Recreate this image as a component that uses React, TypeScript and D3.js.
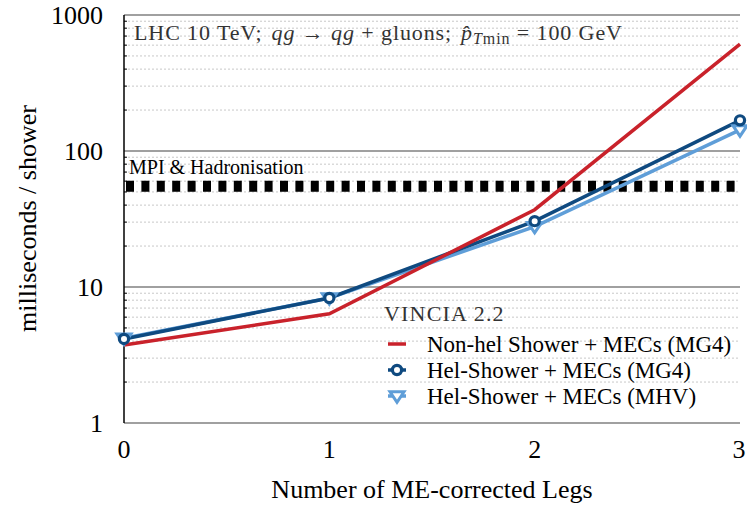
import { scaleLinear, scaleLog, line } from "d3";

const W = 747;
const H = 508;
const MARGIN = { top: 15, left: 124, right: 7, bottom: 86 };

const legs = [0, 1, 2, 3];
const nonHelMG4 = [3.75, 6.35, 37, 610];
const helMG4 = [4.15, 8.3, 30.5, 168];
const helMHV = [4.2, 8.3, 27.8, 143];
const mpiHadronisation = 55;
const yMajorTicks = [1, 10, 100, 1000];
const xTicks = [0, 1, 2, 3];

const RED = "#c9222b";
const DARK = "#0f4a80";
const LIGHT = "#5f9ed8";
const TXT = { fontFamily: "Liberation Serif" };

function App() {
  const x0 = MARGIN.left;
  const x1 = W - MARGIN.right;
  const y0 = H - MARGIN.bottom;
  const xScale = scaleLinear().domain([0, 3]).range([x0, x1]);
  const yScale = scaleLog().domain([1, 1000]).range([y0 + 1, MARGIN.top]);

  const minor: number[] = [];
  [1, 10, 100].forEach((d) => {
    for (let k = 2; k <= 9; k++) minor.push(d * k);
  });

  const path = line<number>()
    .x((_, i) => xScale(legs[i]))
    .y((d) => yScale(d));

  const tri = (cx: number, cy: number, s: number) =>
    `M${cx - s},${cy - s * 0.6} L${cx + s},${cy - s * 0.6} L${cx},${cy + s * 0.9} Z`;

  const legY = [344, 370, 396];

  return (
    <svg width={W} height={H} style={{ display: "block", position: "fixed", left: 0, top: 0 }}>
      <rect width={W} height={H} fill="#fff" />
      {/* minor grid */}
      {minor.map((v, i) => (
        <g key={"m" + i}>
          <line x1={x0} x2={x1} y1={yScale(v)} y2={yScale(v)} stroke="#c8c8c8" strokeWidth={1} strokeDasharray="2 2" />
          <line x1={x0} x2={x0 + 3} y1={yScale(v)} y2={yScale(v)} stroke="#000" strokeWidth={1} />
        </g>
      ))}
      {/* major grid */}
      {yMajorTicks.map((v) => (
        <line key={"M" + v} x1={x0} x2={x1} y1={yScale(v)} y2={yScale(v)} stroke="#a0a0a0" strokeWidth={2} />
      ))}
      {yMajorTicks.map((v) => (
        <text key={"L" + v} x={103} y={yScale(v) + 9} textAnchor="end" fontSize={26} fill="#000" style={TXT}>
          {v}
        </text>
      ))}
      <line x1={x0} x2={x0} y1={MARGIN.top} y2={y0 + 1} stroke="#000" strokeWidth={1.5} />
      {xTicks.map((t) => (
        <text key={"x" + t} x={Math.min(xScale(t), 739)} y={458} textAnchor="middle" fontSize={26} fill="#000" style={TXT}>
          {t}
        </text>
      ))}

      {/* header */}
      <text x={134} y={40} fontSize={22} fill="#333" letterSpacing={0.9} style={TXT}>
        LHC 10 TeV;
        <tspan dx={9} fontStyle="italic">qg</tspan>
        <tspan> → </tspan>
        <tspan fontStyle="italic">qg</tspan>
        <tspan> + gluons;</tspan>
        <tspan dx={9} fontStyle="italic">p̂</tspan>
        <tspan fontStyle="italic" fontSize={16} dy={4}>T</tspan>
        <tspan fontSize={16}>min</tspan>
        <tspan dy={-4}> = 100 GeV</tspan>
      </text>

      {/* MPI & Hadronisation */}
      <line
        x1={x0 + 2}
        x2={x1}
        y1={yScale(mpiHadronisation)}
        y2={yScale(mpiHadronisation)}
        stroke="#000"
        strokeWidth={11}
        strokeDasharray="8 7.4"
      />
      <text x={129} y={174} fontSize={20} fill="#000" style={TXT}>
        MPI &amp; Hadronisation
      </text>

      {/* series */}
      <path d={path(helMHV) || ""} fill="none" stroke={LIGHT} strokeWidth={3.5} />
      <path d={path(helMG4) || ""} fill="none" stroke={DARK} strokeWidth={3.5} />
      <path d={path(nonHelMG4) || ""} fill="none" stroke={RED} strokeWidth={3.5} />
      {helMHV.map((v, i) => (
        <path key={"t" + i} d={tri(xScale(legs[i]), yScale(v), 7)} fill="#fff" stroke={LIGHT} strokeWidth={3} />
      ))}
      {helMG4.map((v, i) => (
        <circle key={"c" + i} cx={xScale(legs[i])} cy={yScale(v)} r={4.6} fill="#fff" stroke={DARK} strokeWidth={3.2} />
      ))}

      {/* legend */}
      <text x={384} y={321} fontSize={22} fill="#333" letterSpacing={1.2} style={TXT}>
        VINCIA 2.2
      </text>
      <line x1={388} x2={406} y1={legY[0]} y2={legY[0]} stroke={RED} strokeWidth={3.5} />
      <line x1={388} x2={406} y1={legY[1]} y2={legY[1]} stroke={DARK} strokeWidth={3.5} />
      <circle cx={397} cy={legY[1]} r={4.6} fill="#fff" stroke={DARK} strokeWidth={3.2} />
      <line x1={388} x2={406} y1={legY[2]} y2={legY[2]} stroke={LIGHT} strokeWidth={3.5} />
      <path d={tri(397, legY[2], 7)} fill="#fff" stroke={LIGHT} strokeWidth={3} />
      <text x={427} y={legY[0] + 8} fontSize={23} fill="#000" style={TXT}>Non-hel Shower + MECs (MG4)</text>
      <text x={427} y={legY[1] + 8} fontSize={23} fill="#000" style={TXT}>Hel-Shower + MECs (MG4)</text>
      <text x={427} y={legY[2] + 8} fontSize={23} fill="#000" style={TXT}>Hel-Shower + MECs (MHV)</text>

      {/* axis titles */}
      <text x={432} y={498} textAnchor="middle" fontSize={26} fill="#000" style={TXT}>
        Number of ME-corrected Legs
      </text>
      <text
        transform={`translate(36,${(MARGIN.top + y0) / 2}) rotate(-90)`}
        textAnchor="middle"
        fontSize={26}
        fill="#000"
        style={TXT}
      >
        milliseconds / shower
      </text>
    </svg>
  );
}

export default App;
